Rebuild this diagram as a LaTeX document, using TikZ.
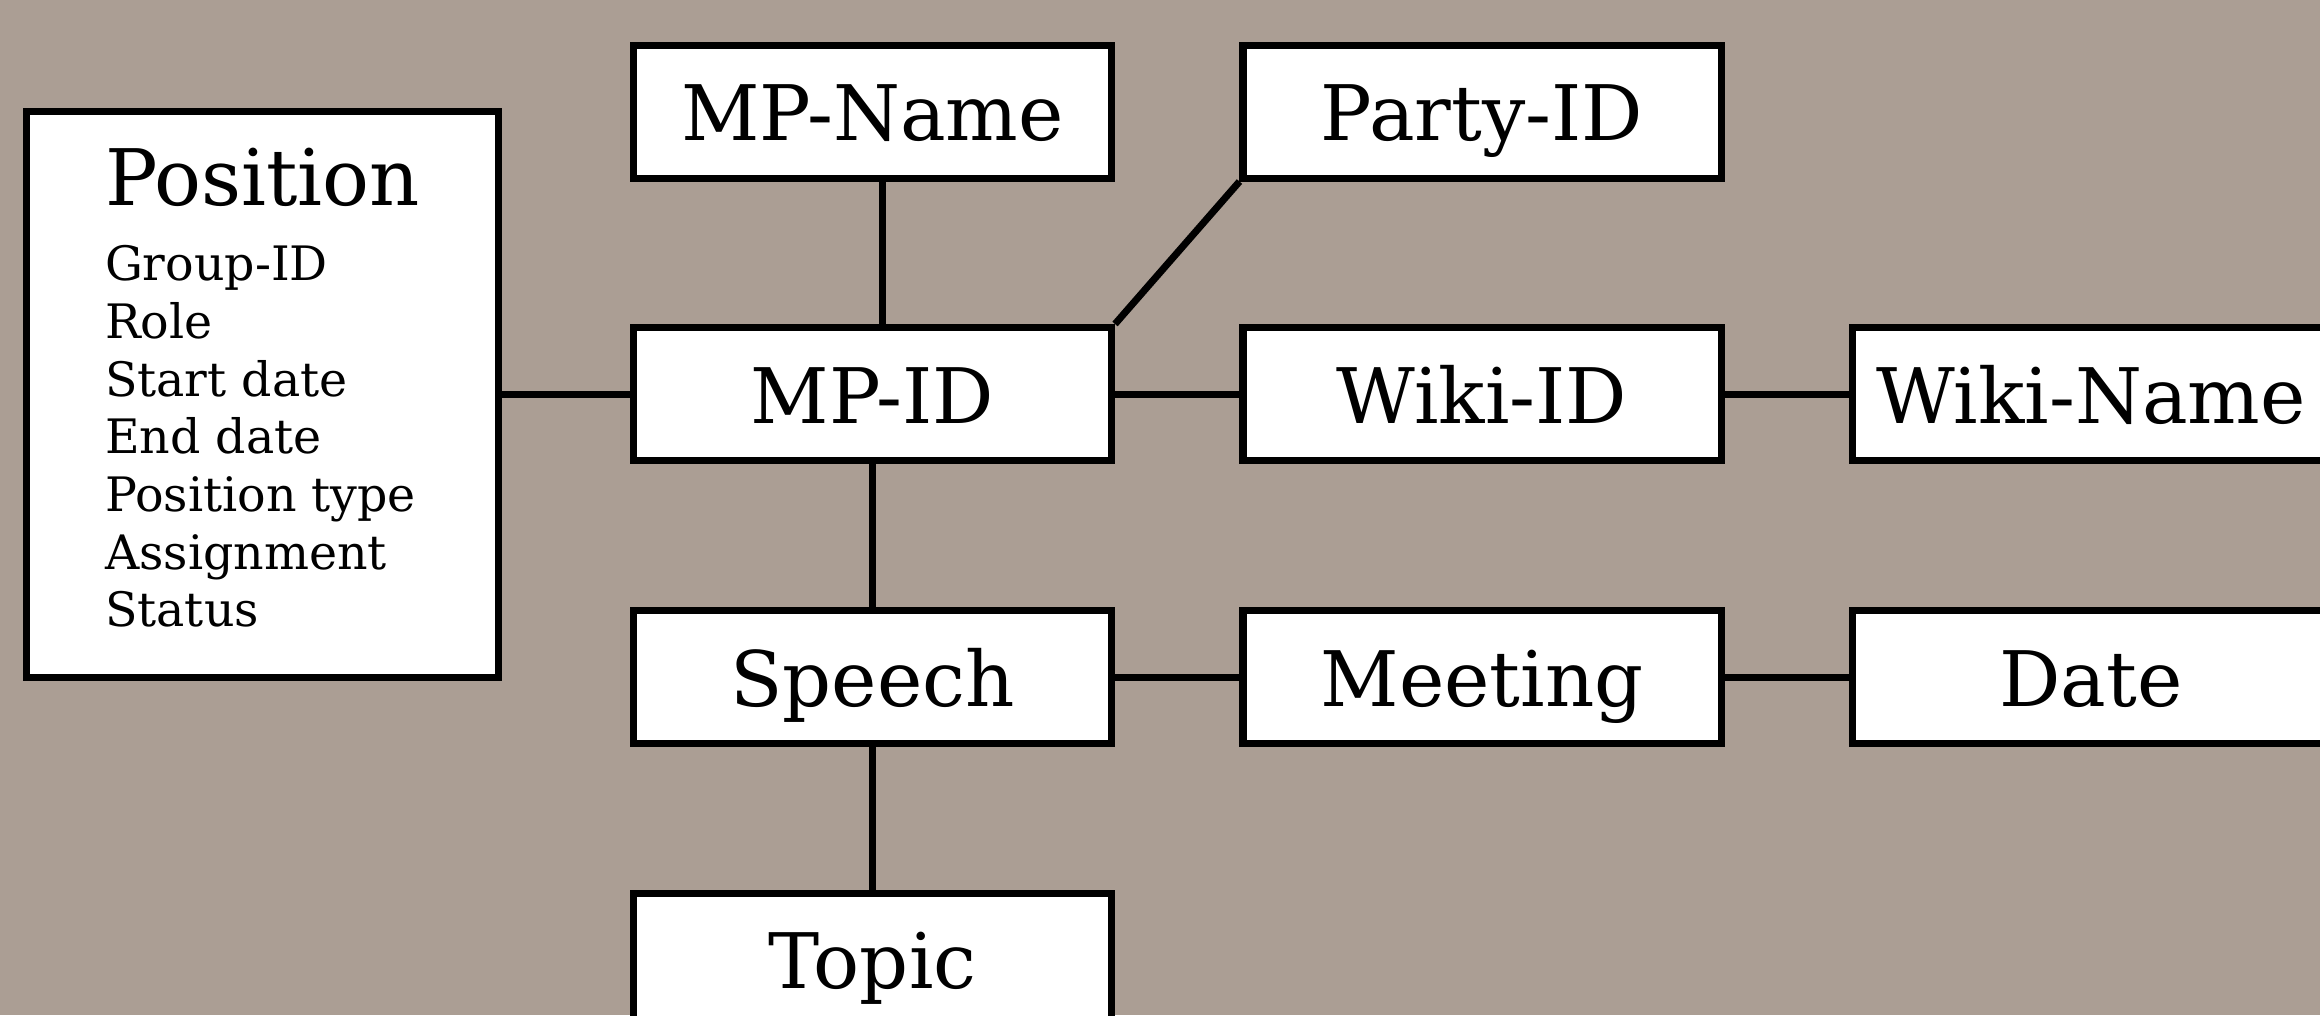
\documentclass[tikz,border=0pt]{standalone}
\usepackage{fontspec}
\setmainfont{DejaVu Serif}
\definecolor{bgtaupe}{RGB}{171,158,148}

\begin{document}
\begin{tikzpicture}
\tikzset{box/.style={draw, rectangle, fill=white, line width=2pt, inner sep=0pt}}
\tikzset{el/.style={box, minimum width=4.78cm, minimum height=1.33cm, text height=0.58cm, text depth=0pt, font=\fontsize{21.8}{26}\selectfont}}
\tikzset{ln/.style={line width=2pt}}

% Background and frame
\fill[bgtaupe] (0,0) rectangle (23.2,-10.15);
\useasboundingbox (0,0) rectangle (23.2,-10.15);

% Position table
\node[box, minimum width=4.72cm, minimum height=5.66cm, align=left, text depth=0.13cm, font=\fontsize{13.5}{16.4}\selectfont] (pos) at (2.625,-3.94)
{{\fontsize{22.2}{26}\selectfont Position}\\[5pt]
Group-ID\\Role\\Start date\\End date\\Position type\\Assignment\\Status};

% MP column
\node[el] (mpname) at (8.725,-1.115) {MP-Name};
\node[el] (mpid) at (8.725,-3.94) {MP-ID};
\node[el] (speech) at (8.725,-6.77) {Speech};
\node[el] (topic) at (8.725,-9.595) {Topic};

% Middle column
\node[el] (partyid) at (14.82,-1.115) {Party-ID};
\node[el] (wikiid) at (14.82,-3.94) {Wiki-ID};
\node[el] (meeting) at (14.82,-6.77) {Meeting};

% Right column
\node[el] (wikiname) at (20.91,-3.94) {Wiki-Name};
\node[el] (date) at (20.91,-6.77) {Date};

% Connections
\draw[ln] (pos) -- (mpid);
\draw[ln] ([xshift=.1cm]mpname.south) -- ([xshift=.1cm]mpid.north);
\draw[ln] (partyid.south west) -- (mpid.north east);
\draw[ln] (mpid) -- (wikiid);
\draw[ln] (wikiid) -- (wikiname);
\draw[ln] (mpid) -- (speech);
\draw[ln] (speech) -- (meeting);
\draw[ln] (meeting) -- (date);
\draw[ln] (speech) -- (topic);

\end{tikzpicture}
\end{document}
